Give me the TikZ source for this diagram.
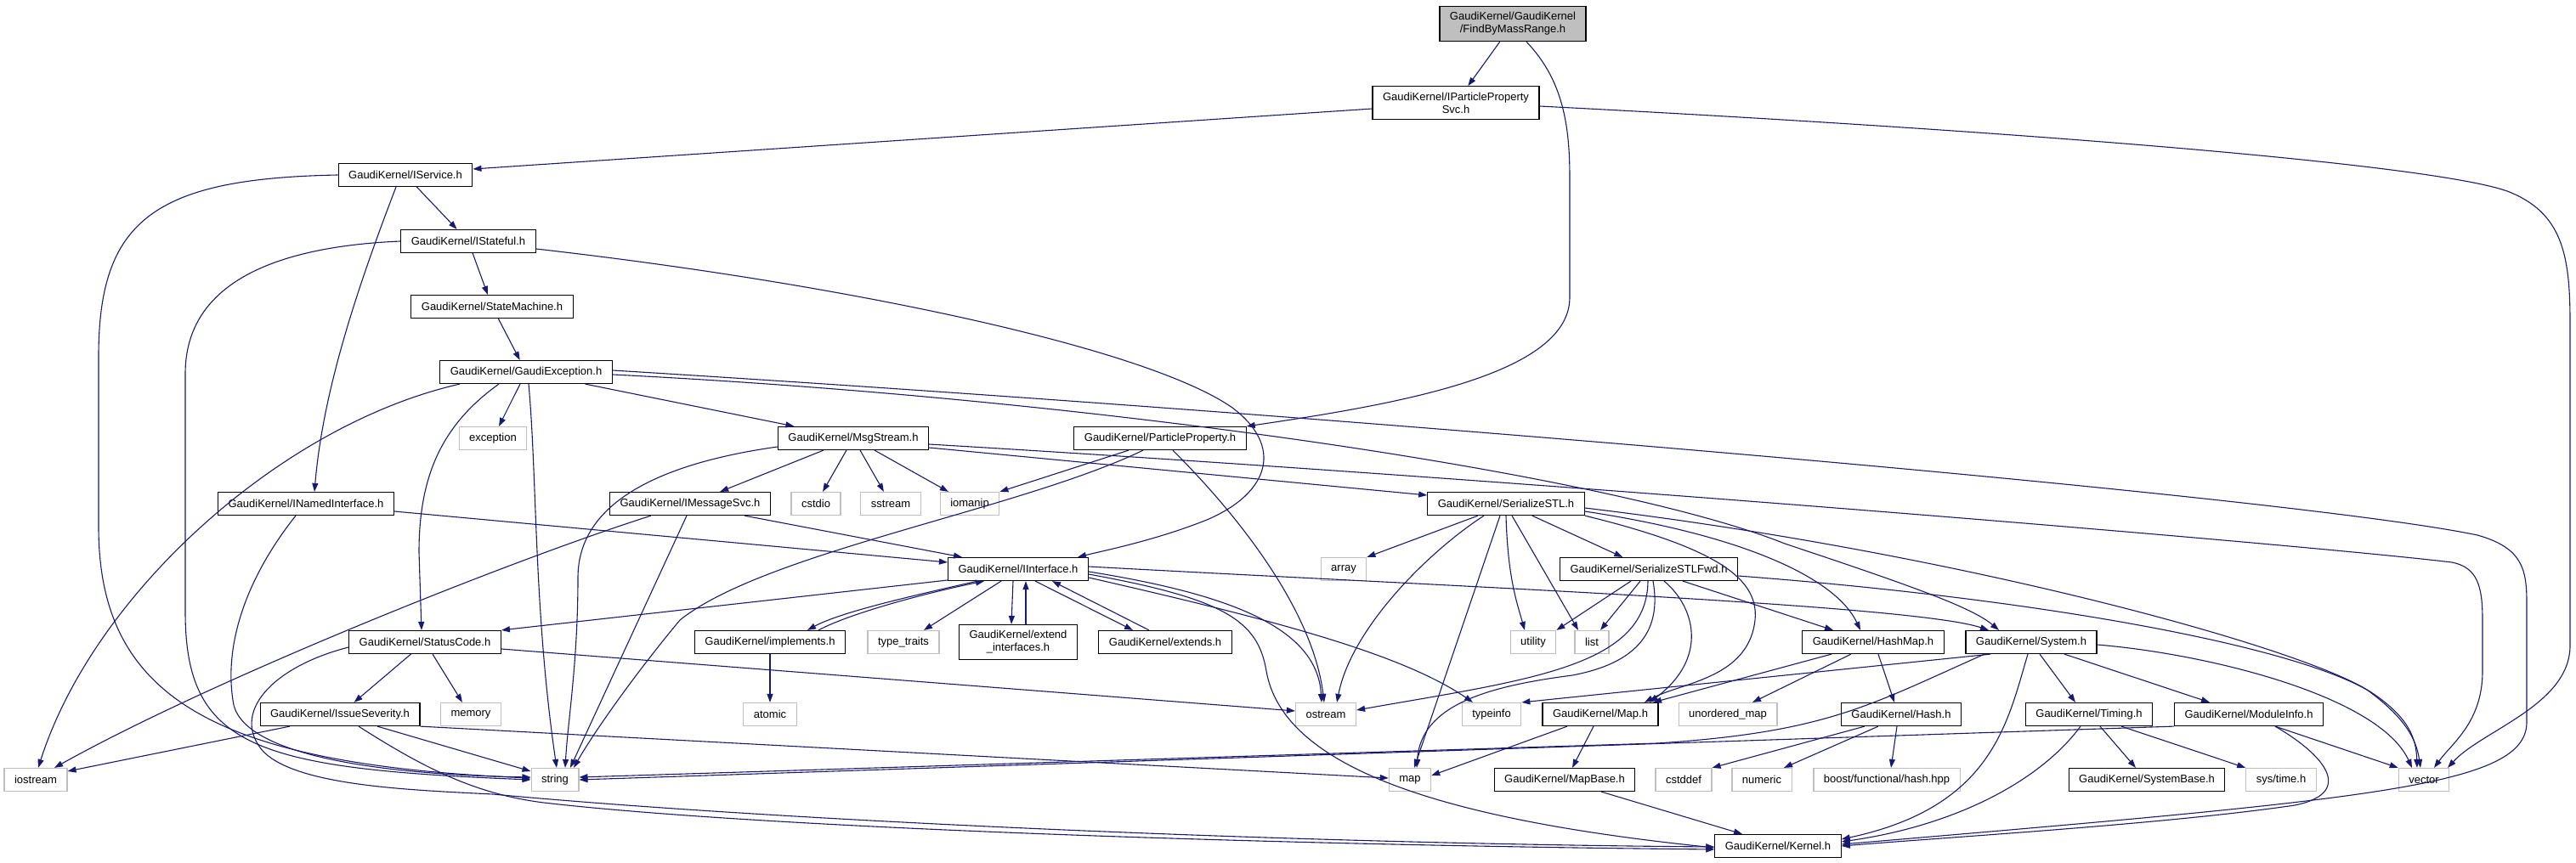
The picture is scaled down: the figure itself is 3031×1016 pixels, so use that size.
\documentclass[tikz,border=0pt]{standalone}
\usepackage{fontspec}
\setmainfont{Liberation Sans}
\usetikzlibrary{arrows.meta}
\definecolor{edgeblue}{HTML}{191970}
\definecolor{sysgray}{HTML}{BFBFBF}
\begin{document}
\begin{tikzpicture}[x=1pt,y=-1pt,
  hfile/.style={draw=black, line width=1.2pt, fill=white, font=\fontsize{13pt}{15pt}\selectfont, inner xsep=12pt, inner ysep=7pt, minimum height=27pt, align=center},
  sysfile/.style={hfile, draw=sysgray},
  mainfile/.style={hfile, fill=sysgray},
  dep/.style={draw=edgeblue, line width=1.1pt, -{Triangle[length=10pt,width=7pt]}}]
\useasboundingbox (0,0) rectangle (3031,1016);
\node[mainfile] (findby) at (1780,28) {GaudiKernel/GaudiKernel\\/FindByMassRange.h};
\node[hfile] (ippsvc) at (1713,121) {GaudiKernel/IParticleProperty\\Svc.h};
\node[hfile] (iservice) at (477,206) {GaudiKernel/IService.h};
\node[hfile] (istateful) at (551,284) {GaudiKernel/IStateful.h};
\node[hfile] (statemachine) at (579,361) {GaudiKernel/StateMachine.h};
\node[hfile] (gexception) at (619,438) {GaudiKernel/GaudiException.h};
\node[sysfile] (exception) at (580,516) {exception};
\node[hfile] (msgstream) at (1004,516) {GaudiKernel/MsgStream.h};
\node[hfile] (partprop) at (1365,516) {GaudiKernel/ParticleProperty.h};
\node[hfile] (inamed) at (360,593) {GaudiKernel/INamedInterface.h};
\node[hfile] (imsgsvc) at (812,593) {GaudiKernel/IMessageSvc.h};
\node[sysfile] (cstdio) at (960,593) {cstdio};
\node[sysfile] (sstream) at (1048,593) {sstream};
\node[sysfile] (iomanip) at (1141,593) {iomanip};
\node[hfile] (serstl) at (1772,593) {GaudiKernel/SerializeSTL.h};
\node[hfile] (iinterface) at (1198,670) {GaudiKernel/IInterface.h};
\node[sysfile] (array) at (1581,670) {array};
\node[hfile] (serfwd) at (1940,670) {GaudiKernel/SerializeSTLFwd.h};
\node[hfile] (statuscode) at (500,756) {GaudiKernel/StatusCode.h};
\node[hfile] (implements) at (906,756) {GaudiKernel/implements.h};
\node[sysfile] (typetraits) at (1063,756) {type\_traits};
\node[hfile] (extendif) at (1198,756) {GaudiKernel/extend\\\_interfaces.h};
\node[hfile] (extends) at (1371,756) {GaudiKernel/extends.h};
\node[sysfile] (utility) at (1804,756) {utility};
\node[sysfile] (list) at (1873,756) {list};
\node[hfile] (hashmap) at (2204,756) {GaudiKernel/HashMap.h};
\node[hfile] (system) at (2390,756) {GaudiKernel/System.h};
\node[hfile] (issuesev) at (400,841) {GaudiKernel/IssueSeverity.h};
\node[sysfile] (memory) at (554,841) {memory};
\node[sysfile] (atomic) at (906,841) {atomic};
\node[sysfile] (ostream) at (1560,841) {ostream};
\node[sysfile] (typeinfo) at (1755,841) {typeinfo};
\node[hfile] (gkmap) at (1883,841) {GaudiKernel/Map.h};
\node[sysfile] (unordmap) at (2033,841) {unordered\_map};
\node[hfile] (hash) at (2237,841) {GaudiKernel/Hash.h};
\node[hfile] (timing) at (2458,841) {GaudiKernel/Timing.h};
\node[hfile] (moduleinfo) at (2646,841) {GaudiKernel/ModuleInfo.h};
\node[sysfile] (iostream) at (42,918) {iostream};
\node[sysfile] (string) at (653,918) {string};
\node[sysfile] (map) at (1659,918) {map};
\node[hfile] (mapbase) at (1841,918) {GaudiKernel/MapBase.h};
\node[sysfile] (cstddef) at (1981,918) {cstddef};
\node[sysfile] (numeric) at (2073,918) {numeric};
\node[sysfile] (boosthash) at (2220,918) {boost/functional/hash.hpp};
\node[hfile] (systembase) at (2526,918) {GaudiKernel/SystemBase.h};
\node[sysfile] (systime) at (2684,918) {sys/time.h};
\node[sysfile] (vector) at (2852,918) {vector};
\node[hfile] (kernel) at (2092,996) {GaudiKernel/Kernel.h};
\draw[dep] (findby) -- (ippsvc);
\draw[dep] ([xshift=16pt]findby.south) .. controls (1840,95) and (1847,150) .. (1847,210) -- (1847,350) .. controls (1847,440) and (1650,475) .. (partprop.north east);
\draw[dep] ([yshift=-7pt]ippsvc.west) -- ([yshift=7pt]iservice.east);
\draw[dep] ([yshift=-4pt]ippsvc.east) .. controls (2300,150) and (2850,190) .. (2950,225) .. controls (3015,250) and (3024,300) .. (3024,380) -- (3024,760) .. controls (3024,830) and (2920,860) .. ([xshift=28pt]vector.north);
\draw[dep] (iservice) -- (istateful);
\draw[dep] ([xshift=-11pt]iservice.south) .. controls (420,340) and (380,460) .. ([xshift=10pt]inamed.north);
\draw[dep] (iservice.west) .. controls (180,210) and (116,260) .. (116,420) -- (116,620) .. controls (116,820) and (250,900) .. ([yshift=2pt]string.west);
\draw[dep] (istateful) -- (statemachine);
\draw[dep] ([yshift=-9pt]istateful.east) .. controls (1000,335) and (1350,410) .. (1450,480) .. controls (1510,525) and (1495,580) .. (1420,612) .. controls (1360,636) and (1300,648) .. ([xshift=70pt]iinterface.north);
\draw[dep] (istateful.west) .. controls (330,290) and (218,330) .. (218,440) -- (218,720) .. controls (218,880) and (300,905) .. (string.west);
\draw[dep] (statemachine) -- (gexception);
\draw[dep] (gexception) -- (exception);
\draw[dep] (gexception) -- (msgstream);
\draw[dep] ([xshift=-78pt]gexception.south) .. controls (330,500) and (110,700) .. ([xshift=3pt]iostream.north);
\draw[dep] ([xshift=3pt]gexception.south) .. controls (632,560) and (628,720) .. ([xshift=2pt]string.north);
\draw[dep] ([xshift=-32pt]gexception.south) .. controls (520,500) and (493,560) .. (493,650) -- ([xshift=-4pt]statuscode.north);
\draw[dep] ([yshift=-3pt]gexception.east) .. controls (1300,470) and (1900,560) .. (2100,640) .. controls (2250,690) and (2320,715) .. ([xshift=-38pt]system.north);
\draw[dep] ([yshift=2pt]gexception.east) .. controls (1600,490) and (2700,585) .. (2915,630) .. controls (2968,645) and (2973,670) .. (2973,710) -- (2973,850) .. controls (2973,925) and (2800,940) .. ([yshift=2pt]kernel.east);
\draw[dep] ([yshift=-9pt]inamed.east) -- ([yshift=8pt]iinterface.west);
\draw[dep] ([xshift=-12pt]inamed.south) .. controls (290,680) and (262,760) .. (275,830) .. controls (290,890) and (450,912) .. ([yshift=3pt]string.west);
\draw[dep] ([yshift=-10pt]msgstream.west) .. controls (780,545) and (680,590) .. (680,680) .. controls (680,780) and (668,850) .. ([xshift=12pt]string.north);
\draw[dep] (msgstream) -- (imsgsvc);
\draw[dep] (msgstream) -- (cstdio);
\draw[dep] (msgstream) -- (sstream);
\draw[dep] (msgstream) -- (iomanip);
\draw[dep] ([yshift=-11pt]msgstream.east) -- ([yshift=10pt]serstl.west);
\draw[dep] ([yshift=-7pt]msgstream.east) .. controls (1800,565) and (2700,640) .. (2885,662) .. controls (2915,668) and (2921,690) .. (2921,730) -- (2921,790) .. controls (2921,850) and (2885,875) .. ([xshift=12pt]vector.north);
\draw[dep] ([xshift=-46pt]imsgsvc.south) .. controls (600,660) and (250,800) .. ([xshift=22pt]iostream.north);
\draw[dep] ([xshift=-4pt]imsgsvc.south) -- ([xshift=18pt]string.north);
\draw[dep] ([xshift=64pt]imsgsvc.south) -- ([xshift=-66pt]iinterface.north);
\draw[dep] ([xshift=-37pt]partprop.south) -- (iomanip.north east);
\draw[dep] ([xshift=-20pt]partprop.south) .. controls (1200,600) and (900,650) .. (800,730) .. controls (750,790) and (700,860) .. ([xshift=22pt]string.north);
\draw[dep] ([xshift=15pt]partprop.south) .. controls (1460,610) and (1545,720) .. ([xshift=-2pt]ostream.north);
\draw[dep] ([xshift=-33pt]serstl.south) -- (array.north east);
\draw[dep] ([xshift=-26pt]serstl.south) .. controls (1680,650) and (1590,740) .. ([xshift=13pt]ostream.north);
\draw[dep] ([xshift=-7pt]serstl.south) -- ([xshift=5pt]map.north);
\draw[dep] (serstl.south) .. controls (1774,680) and (1785,710) .. ([xshift=-10pt]utility.north);
\draw[dep] ([xshift=7pt]serstl.south) -- ([xshift=-16pt]list.north);
\draw[dep] (serstl) -- (serfwd);
\draw[dep] ([yshift=-9pt]serstl.east) .. controls (2050,630) and (2160,680) .. ([xshift=-15pt]hashmap.north);
\draw[dep] (serstl.south east) .. controls (2040,650) and (2078,690) .. (2062,745) .. controls (2045,800) and (1975,805) .. ([xshift=52pt]gkmap.north);
\draw[dep] ([yshift=-5pt]serstl.east) .. controls (2300,650) and (2700,760) .. (2785,812) .. controls (2830,845) and (2843,870) .. ([xshift=-4pt]vector.north);
\draw[dep] ([xshift=-21pt]serfwd.south) -- (utility.north east);
\draw[dep] ([xshift=-10pt]serfwd.south) -- ([xshift=10pt]list.north);
\draw[dep] ([xshift=-1pt]serfwd.south) .. controls (1938,785) and (1800,800) .. ([yshift=5pt]ostream.east);
\draw[dep] ([xshift=5pt]serfwd.south) .. controls (1955,740) and (1930,780) .. (1850,795) .. controls (1750,808) and (1672,830) .. ([xshift=8pt]map.north);
\draw[dep] ([xshift=18pt]serfwd.south) .. controls (1995,715) and (2010,775) .. ([xshift=58pt]gkmap.north);
\draw[dep] ([xshift=40pt]serfwd.south) -- ([xshift=-47pt]hashmap.north);
\draw[dep] ([yshift=-8pt]serfwd.east) .. controls (2400,705) and (2700,760) .. (2790,815) .. controls (2835,845) and (2843,870) .. ([xshift=-8pt]vector.north);
\draw[dep] ([yshift=-13pt]iinterface.west) -- (statuscode.north east);
\draw[dep] ([xshift=-48pt]iinterface.south) .. controls (1080,700) and (990,720) .. ([xshift=44pt]implements.north);
\draw[dep] ([xshift=-20pt]iinterface.south) -- ([xshift=24pt]typetraits.north);
\draw[dep] ([xshift=-6pt]iinterface.south) -- ([xshift=-8pt]extendif.north);
\draw[dep] ([xshift=20pt]iinterface.south) -- ([xshift=-38pt]extends.north);
\draw[dep] ([yshift=-3pt]iinterface.east) .. controls (1450,700) and (1550,740) .. ([xshift=-5pt]ostream.north);
\draw[dep] ([yshift=-6pt]iinterface.east) .. controls (1440,705) and (1480,730) .. (1490,790) .. controls (1510,905) and (1700,965) .. ([yshift=-2pt]kernel.west);
\draw[dep] ([yshift=-10pt]iinterface.east) .. controls (1500,730) and (1650,770) .. ([xshift=-22pt]typeinfo.north);
\draw[dep] ([yshift=3pt]iinterface.east) .. controls (1700,690) and (2250,712) .. ([xshift=-50pt]system.north);
\draw[dep] ([xshift=57pt]implements.north) .. controls (1000,722) and (1090,698) .. ([xshift=-40pt]iinterface.south);
\draw[dep] (implements) -- (atomic);
\draw[dep] ([xshift=9pt]extendif.north) -- ([xshift=9pt]iinterface.south);
\draw[dep] ([xshift=-19pt]extends.north) -- ([xshift=40pt]iinterface.south);
\draw[dep] (statuscode) -- (issuesev);
\draw[dep] ([xshift=9pt]statuscode.south) -- ([xshift=-10pt]memory.north);
\draw[dep] ([yshift=-8pt]statuscode.east) -- ([yshift=4pt]ostream.west);
\draw[dep] ([yshift=-6pt]statuscode.west) .. controls (320,785) and (270,840) .. (310,885) .. controls (350,925) and (480,930) .. (580,935) .. controls (900,965) and (1500,993) .. ([yshift=-1pt]kernel.west);
\draw[dep] ([xshift=-59pt]issuesev.south) -- ([yshift=10pt]iostream.east);
\draw[dep] ([xshift=44pt]issuesev.south) -- ([yshift=10pt]string.west);
\draw[dep] (issuesev.south east) -- ([yshift=2pt]map.west);
\draw[dep] ([xshift=22pt]issuesev.south) .. controls (500,905) and (560,935) .. (640,945) .. controls (900,975) and (1500,995) .. ([yshift=-4pt]kernel.west);
\draw[dep] ([xshift=-39pt]gkmap.south) -- ([yshift=5pt]map.east);
\draw[dep] ([xshift=-8pt]gkmap.south) -- ([xshift=9pt]mapbase.north);
\draw[dep] ([xshift=43pt]mapbase.south) -- ([xshift=-42pt]kernel.north);
\draw[dep] ([xshift=-49pt]hashmap.south) -- ([xshift=62pt]gkmap.north);
\draw[dep] ([xshift=-26pt]hashmap.south) -- ([xshift=29pt]unordmap.north);
\draw[dep] ([xshift=6pt]hashmap.south) -- ([xshift=-8pt]hash.north);
\draw[dep] ([xshift=-43pt]hash.south) -- (cstddef.north east);
\draw[dep] ([xshift=-27pt]hash.south) -- ([xshift=26pt]numeric.north);
\draw[dep] ([xshift=-5pt]hash.south) -- ([xshift=5pt]boosthash.north);
\draw[dep] ([xshift=10pt]system.south) -- ([xshift=-16pt]timing.north);
\draw[dep] ([xshift=39pt]system.south) -- ([xshift=-46pt]moduleinfo.north);
\draw[dep] ([xshift=-4pt]system.south) .. controls (2362,850) and (2345,950) .. ([yshift=8pt]kernel.east);
\draw[dep] ([yshift=-3pt]system.east) .. controls (2600,770) and (2800,820) .. ([xshift=-14pt]vector.north);
\draw[dep] ([xshift=-48pt]system.south) -- (typeinfo.north east);
\draw[dep] ([xshift=-55pt]system.south) .. controls (2200,830) and (2150,862) .. (1950,875) -- ([yshift=3pt]string.east);
\draw[dep] ([xshift=13pt]timing.south) -- ([xshift=-13pt]systembase.north);
\draw[dep] ([xshift=38pt]timing.south) -- (systime.north west);
\draw[dep] ([xshift=-10pt]timing.south) .. controls (2400,920) and (2300,972) .. ([yshift=5pt]kernel.east);
\draw[dep] (moduleinfo.south west) -- (string.east);
\draw[dep] ([xshift=31pt]moduleinfo.south) -- (vector.north west);
\draw[dep] ([xshift=31pt]moduleinfo.south) .. controls (2745,895) and (2765,935) .. (2700,948) .. controls (2550,970) and (2300,985) .. (kernel.east);
\end{tikzpicture}
\end{document}
